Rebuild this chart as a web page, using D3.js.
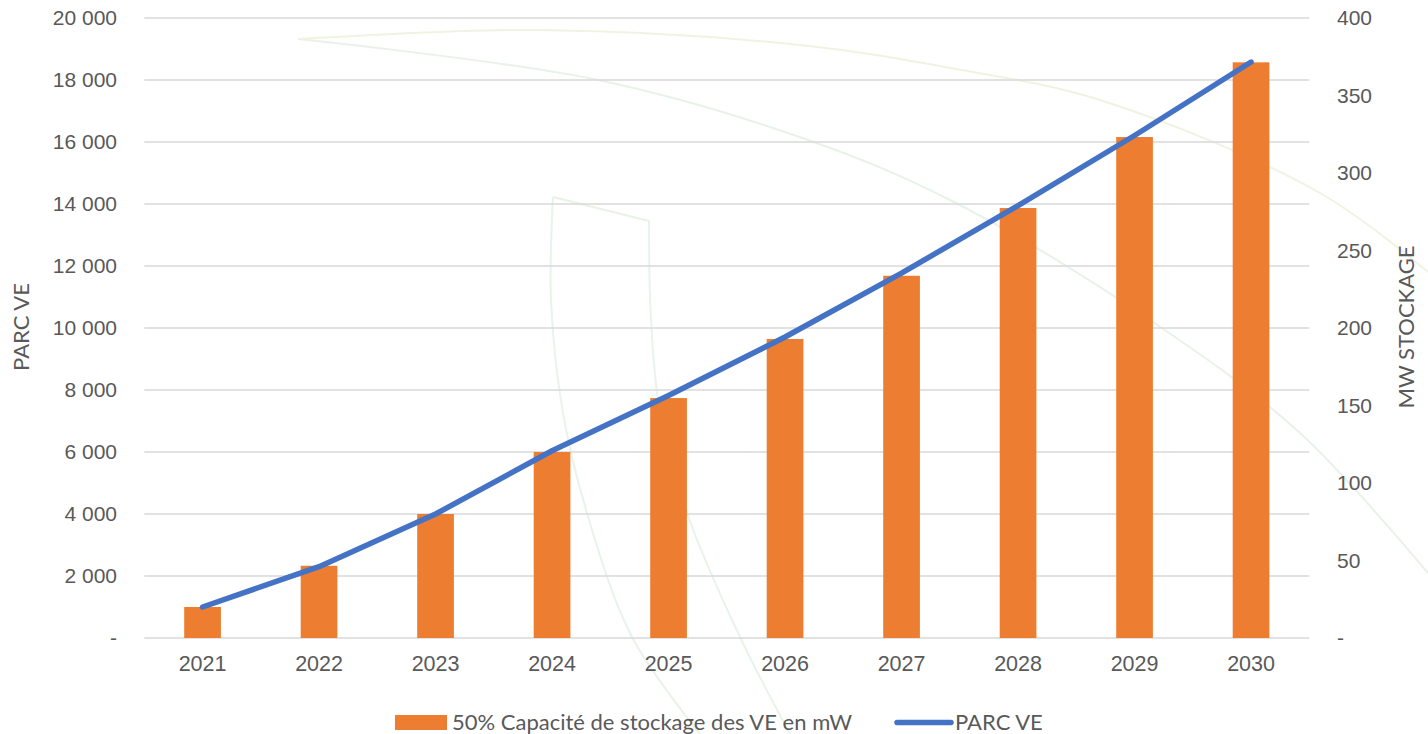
<!DOCTYPE html>
<html>
<head>
<meta charset="utf-8">
<script src="https://cdn.jsdelivr.net/npm/d3@7"></script>
<style>
  html, body { margin: 0; padding: 0; background: #fff; }
  svg { display: block; font-family: Lato, "Open Sans", sans-serif; }
</style>
</head>
<body>
<svg width="1428" height="734"></svg>
<script>
// data
var years = ["2021","2022","2023","2024","2025","2026","2027","2028","2029","2030"];
var parcVE = [1000, 2300, 4000, 6040, 7820, 9710, 11770, 13950, 16210, 18580];
var stockage = [20, 46.6, 80, 120, 154.8, 192.9, 233.7, 277.4, 323.2, 371.4];
var leftTicks = [0, 2000, 4000, 6000, 8000, 10000, 12000, 14000, 16000, 18000, 20000];
var rightTicks = [0, 50, 100, 150, 200, 250, 300, 350, 400];

var barName = "50% Capacité de stockage des VE en mW";
var lineName = "PARC VE";

var canvas = d3.select("svg");
var textColor = "#595959";

var x = d3.scaleBand().domain(years).range([144.3, 1309.3]);
var yL = d3.scaleLinear().domain([0, 20000]).range([638, 18]);
var yR = d3.scaleLinear().domain([0, 400]).range([638, 18]);

var fr = d3.formatLocale({decimal: ",", thousands: " ", grouping: [3], currency: ["", " €"]});
var fmtL = function(d) { return d === 0 ? "-" : fr.format(",")(d); };
var fmtR = function(d) { return d === 0 ? "-" : d; };

// faint background watermark (decoration from the source image)
var wm = canvas.append("g").attr("fill", "none").attr("stroke-width", 2);
var curve = d3.line().curve(d3.curveCatmullRom);
wm.append("path").attr("stroke", "#f1f3e2")
  .attr("d", curve([[298,39],[540,30],[800,45],[950,68],[1100,100],[1320,193],[1428,272]]));
wm.append("path").attr("stroke", "#e9f2e8")
  .attr("d", curve([[298,39],[598,80],[808,140],[950,200],[1150,320],[1300,433],[1428,573]]));
wm.append("path").attr("stroke", "#e8f3ea")
  .attr("d", curve([[553,197],[551,300],[563,413],[587,513],[632,637],[700,734]]));
wm.append("path").attr("stroke", "#e8f3ea")
  .attr("d", curve([[649,221],[651,320],[660,413],[687,513],[740,637],[790,734]]));
wm.append("path").attr("stroke", "#eaf2e6").attr("d", "M553,197L649,221");

// gridlines
canvas.append("g")
  .selectAll("line").data(leftTicks).enter().append("line")
  .attr("x1", 144.3).attr("x2", 1309.3)
  .attr("y1", function(d) { return yL(d); })
  .attr("y2", function(d) { return yL(d); })
  .attr("stroke", "#d9d9d9").attr("stroke-width", 1.5);

// left axis
var yaxis = d3.axisLeft(yL).tickValues(leftTicks).tickFormat(fmtL).tickSize(0).tickPadding(0);
var gl = canvas.append("g").attr("transform", "translate(117,0)").call(yaxis);
gl.select(".domain").remove();
gl.selectAll("text").attr("fill", textColor).style("font-size", "21px");

// right axis
var yaxisR = d3.axisRight(yR).tickValues(rightTicks).tickFormat(fmtR).tickSize(0).tickPadding(0);
var gr = canvas.append("g").attr("transform", "translate(1337,0)").call(yaxisR);
gr.select(".domain").remove();
gr.selectAll("text").attr("fill", textColor).style("font-size", "21px");

// x axis labels
var xaxis = d3.axisBottom(x).tickSize(0).tickPadding(0);
var gx = canvas.append("g").attr("transform", "translate(0,656)").call(xaxis);
gx.select(".domain").remove();
gx.selectAll("text").attr("fill", textColor).style("font-size", "21.5px");

// axis titles
canvas.append("text").attr("transform", "translate(29,327) rotate(-90)")
  .attr("text-anchor", "middle").attr("fill", textColor).style("font-size", "22px").text("PARC VE");
canvas.append("text").attr("transform", "translate(1414,327) rotate(-90)")
  .attr("text-anchor", "middle").attr("fill", textColor).style("font-size", "22px").text("MW STOCKAGE");

// bars
var barW = x.bandwidth() * 0.315;
canvas.append("g")
  .selectAll("rect").data(stockage).enter().append("rect")
  .attr("x", function(d, i) { return x(years[i]) + x.bandwidth() / 2 - barW / 2; })
  .attr("y", function(d) { return yR(d); })
  .attr("width", barW)
  .attr("height", function(d) { return yR(0) - yR(d); })
  .attr("fill", "#ED7D31");

// line
var line = d3.line()
  .x(function(d, i) { return x(years[i]) + x.bandwidth() / 2; })
  .y(function(d) { return yL(d); });
canvas.append("path").datum(parcVE)
  .attr("d", line)
  .attr("fill", "none").attr("stroke", "#4472C4").attr("stroke-width", 5.5)
  .attr("stroke-linecap", "round").attr("stroke-linejoin", "round");

// legend
var lg = canvas.append("g");
lg.append("rect").attr("x", 395).attr("y", 715).attr("width", 52).attr("height", 15).attr("fill", "#ED7D31");
lg.append("text").attr("x", 452).attr("y", 730).attr("fill", textColor).style("font-size", "22px").text(barName);
lg.append("line").attr("x1", 897).attr("x2", 951).attr("y1", 722.5).attr("y2", 722.5)
  .attr("stroke", "#4472C4").attr("stroke-width", 5.5).attr("stroke-linecap", "round");
lg.append("text").attr("x", 955).attr("y", 730).attr("fill", textColor).style("font-size", "22px").text(lineName);
</script>
</body>
</html>
